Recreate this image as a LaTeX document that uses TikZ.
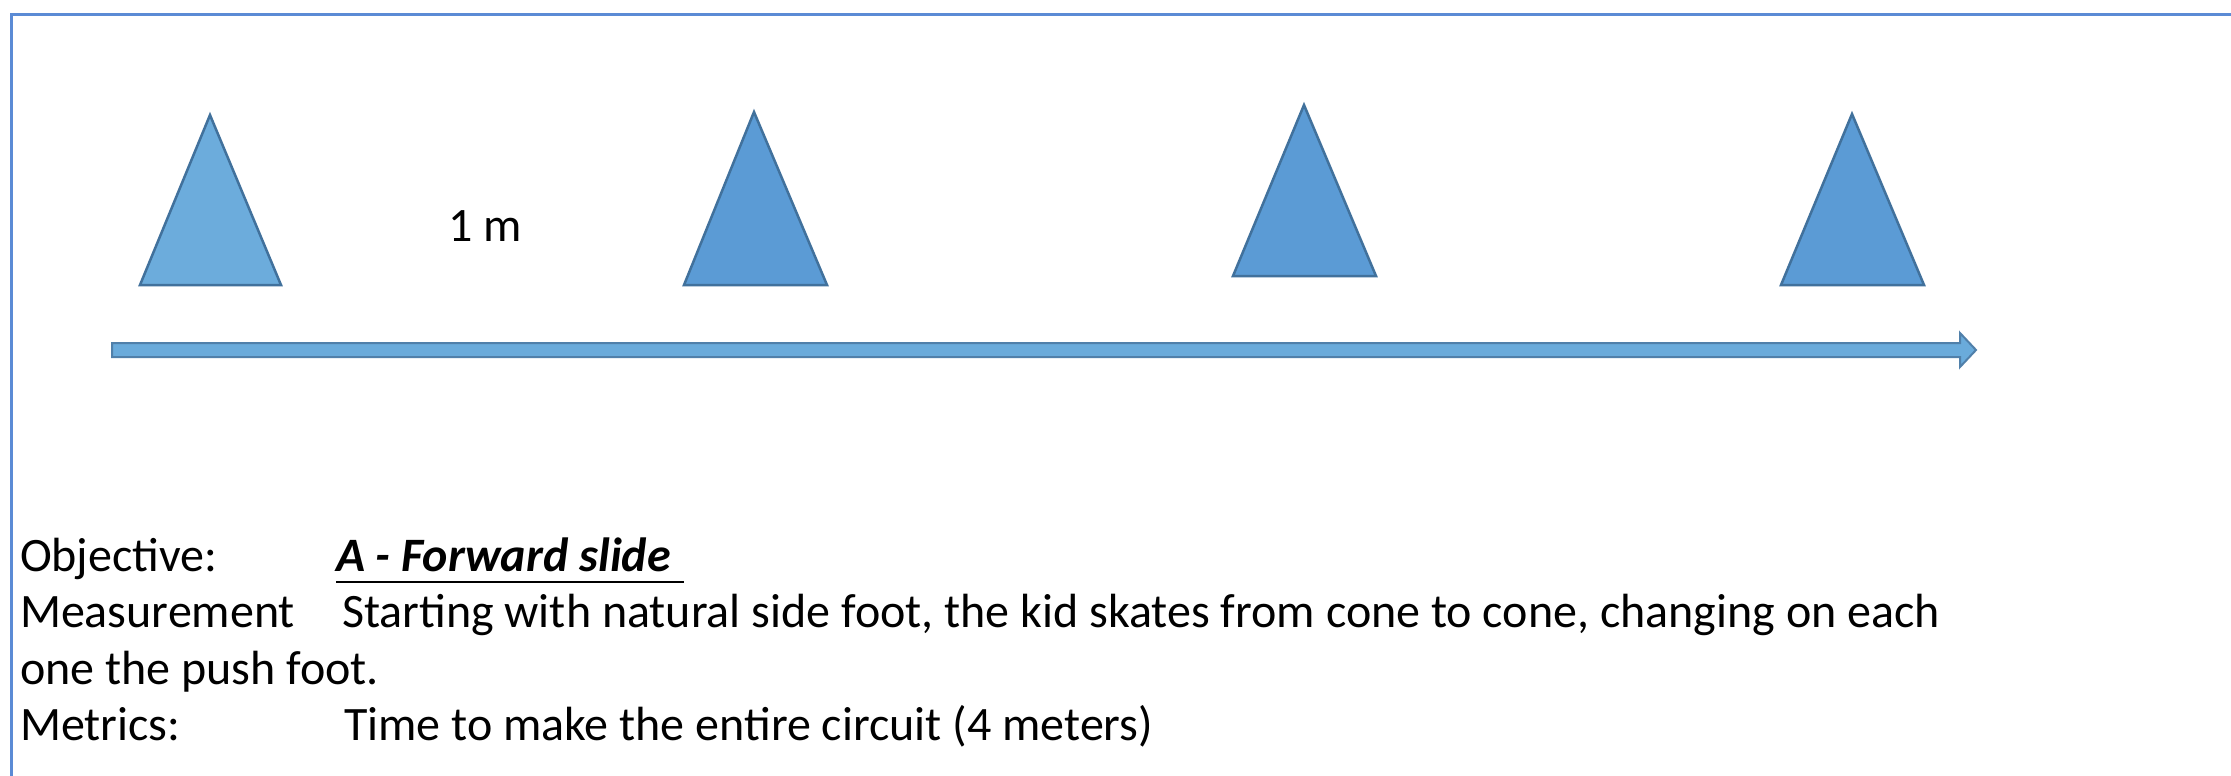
\documentclass[tikz,border=0pt]{standalone}
\usepackage{fontspec}
\setmainfont{Carlito}
\definecolor{framecol}{RGB}{91,139,213}
\definecolor{conelight}{RGB}{108,172,220}
\definecolor{conefill}{RGB}{91,155,213}
\definecolor{conedraw}{RGB}{65,113,156}
\definecolor{arrowfill}{RGB}{106,171,219}
\definecolor{arrowdraw}{RGB}{80,128,170}
\begin{document}
\begin{tikzpicture}[x=1pt,y=-1pt,
  cone/.style={fill=conefill,draw=conedraw,line width=2.5pt,line join=miter},
  txt/.style={anchor=base west,inner sep=0pt,outer sep=0pt,font=\fontsize{48}{58}\selectfont}]
\useasboundingbox (0,0) rectangle (2231,776);
\fill[white] (0,0) rectangle (2231,776);
\begin{scope}
\clip (0,0) rectangle (2231,776);
\draw[framecol,line width=3pt] (11,15) rectangle (2260,800);
\end{scope}
% cones
\draw[cone,fill=conelight] (210,115) -- (281,285) -- (140,285) -- cycle;
\draw[cone] (754,112) -- (827,285) -- (684,285) -- cycle;
\draw[cone] (1304,105) -- (1376,276) -- (1233,276) -- cycle;
\draw[cone] (1852,114) -- (1924,285) -- (1781,285) -- cycle;
% arrow
\draw[fill=arrowfill,draw=arrowdraw,line width=2pt,line join=miter]
  (112,343) -- (1960,343) -- (1960,333) -- (1976,350) -- (1960,367) -- (1960,357) -- (112,357) -- cycle;
% texts
\node[txt] (dist) at (448,241) {1 m};
\node[txt] (obj) at (20,571) {Objective:};
\node[txt] (objv) at (336,571) {\bfseries\itshape A - Forward slide};
\draw[line width=2.5pt] (336,582) -- (684,582);
\node[txt] (meas) at (20,627) {Measurement};
\node[txt] (measv) at (342,627) {Starting with natural side foot, the kid skates from cone to cone, changing on each};
\node[txt] (meas2) at (20,684) {one the push foot.};
\node[txt] (met) at (20,740) {Metrics:};
\node[txt] (metv) at (344,740) {Time to make the entire circuit (4 meters)};
\end{tikzpicture}
\end{document}
